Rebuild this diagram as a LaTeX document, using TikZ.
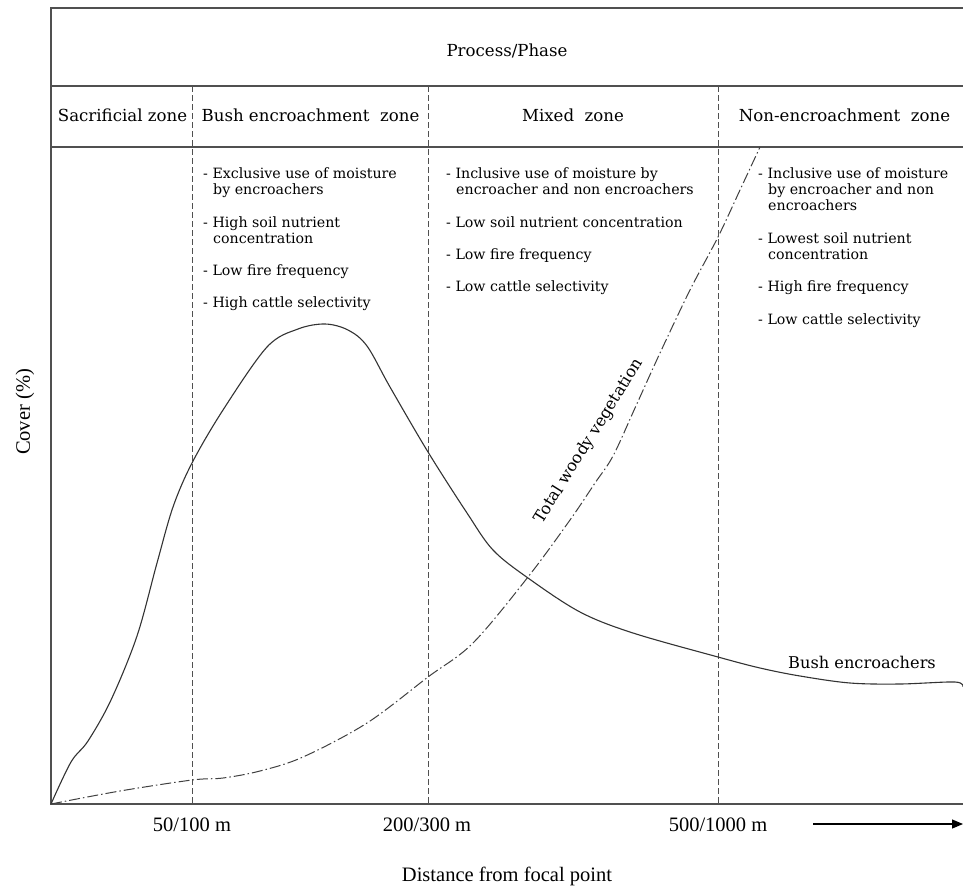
\documentclass[tikz,border=0pt]{standalone}
\usepackage{fontspec}
\setmainfont{DejaVu Serif}
\newfontfamily\axisfont{Liberation Serif}
\usetikzlibrary{arrows.meta}
\definecolor{linegray}{HTML}{505050}
\begin{document}
\begin{tikzpicture}[x=1pt,y=-1pt,
  frame/.style={draw=linegray,line width=1.3pt},
  zonesep/.style={draw=linegray,line width=0.9pt,dash pattern=on 6pt off 3pt},
  bushcurve/.style={draw=black!80,line width=1.1pt},
  woodycurve/.style={draw=black!75,line width=1.0pt,dash pattern=on 11pt off 3pt on 1.5pt off 3pt},
  head/.style={inner sep=0pt,anchor=base,font=\fontsize{16.6}{19}\selectfont},
  listtxt/.style={inner sep=0pt,anchor=base west,font=\fontsize{14.2}{16}\selectfont},
  axlab/.style={inner sep=0pt,anchor=base,font=\axisfont\fontsize{20.5}{23}\selectfont},
  curvelab/.style={inner sep=0pt,font=\fontsize{16.2}{18}\selectfont}]
\useasboundingbox (0,0) rectangle (963,886);
% frame
\draw[frame] (963,8) -- (51,8) -- (51,804) -- (963,804);
\draw[frame] (51,86) -- (963,86);
\draw[frame] (51,147) -- (963,147);
\foreach \xx in {192,428,718} \draw[zonesep] (\xx,86) -- (\xx,804);
% headings
\node[head] (proc) at (507,56) {Process/Phase};
\node[head] (zs) at (122.5,121) {Sacrificial zone};
\node[head] (zb) at (310.5,121) {Bush encroachment\ \ zone};
\node[head] (zm) at (573,121) {Mixed\ \ zone};
\node[head] (zn) at (844.5,121) {Non-encroachment\ \ zone};
% bush encroachment list
\node[listtxt] (b1) at (203,178) {- Exclusive use of moisture};
\node[listtxt] (b1b) at (213,194) {by encroachers};
\node[listtxt] (b2) at (203,227) {- High soil nutrient};
\node[listtxt] (b2b) at (213,243) {concentration};
\node[listtxt] (b3) at (203,275) {- Low fire frequency};
\node[listtxt] (b4) at (203,307) {- High cattle selectivity};
% mixed list
\node[listtxt] (m1) at (446,178) {- Inclusive use of moisture by};
\node[listtxt] (m1b) at (456,194) {encroacher and non encroachers};
\node[listtxt] (m2) at (446,227) {- Low soil nutrient concentration};
\node[listtxt] (m3) at (446,259) {- Low fire frequency};
\node[listtxt] (m4) at (446,291) {- Low cattle selectivity};
% non-encroachment list
\node[listtxt] (n1) at (758,178) {- Inclusive use of moisture};
\node[listtxt] (n1b) at (768,194) {by encroacher and non};
\node[listtxt] (n1c) at (768,210) {encroachers};
\node[listtxt] (n2) at (758,243) {- Lowest soil nutrient};
\node[listtxt] (n2b) at (768,259) {concentration};
\node[listtxt] (n3) at (758,291) {- High fire frequency};
\node[listtxt] (n4) at (758,324) {- Low cattle selectivity};
% curves
\draw[bushcurve] plot[smooth,tension=0.55] coordinates {(51,804) (71,762) (88,741) (111,700) (137,636) (157,563) (173,507) (192,463) (223,410) (267,347) (298,329) (325,324) (348,330) (367,346) (390,387) (428,452) (467,513) (493,550) (528,578) (580,612) (633,633) (718,657) (760,668) (800,676) (850,683) (900,684) (955,682) (963,687)};
\draw[woodycurve] plot[smooth,tension=0.55] coordinates {(51,804) (120,791) (192,780) (223,778) (260,771) (303,757) (367,723) (428,677) (473,643) (528,577) (570,520) (595,483) (613,456) (635,408) (660,353) (690,290) (718,237) (740,190) (760,147)};
\node[curvelab,rotate=58] (wl) at (589,441) {Total woody vegetation};
\node[curvelab,anchor=base] (bl) at (862,668) {Bush encroachers};
% axes labels
\node[axlab,rotate=90,anchor=center] (cov) at (25,412) {Cover (\%)};
\node[axlab] (d1) at (192,831) {50/100 m};
\node[axlab] (d2) at (427,831) {200/300 m};
\node[axlab] (d3) at (718,831) {500/1000 m};
\node[axlab] (dist) at (507,881) {Distance from focal point};
\coordinate (arrA) at (813,824);
\coordinate (arrB) at (963,824);
\draw[line width=1.1pt,-{Triangle[length=11pt,width=9pt]}] (arrA) -- (arrB);
\end{tikzpicture}
\end{document}
